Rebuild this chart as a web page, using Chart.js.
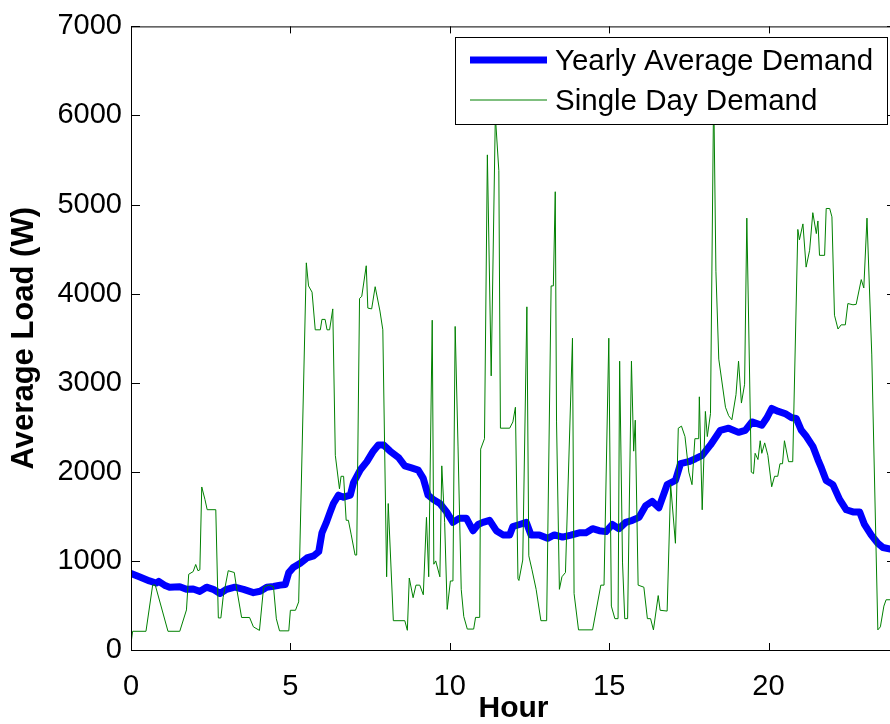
<!DOCTYPE html>
<html>
<head>
<meta charset="utf-8">
<script src="https://cdn.jsdelivr.net/npm/chart.js@4.4.1/dist/chart.umd.min.js"></script>
<style>
    html, body { margin: 0; padding: 0; background: #fff; overflow: hidden; }
    canvas { display: block; }
</style>
</head>
<body>
<canvas id="myChart" width="900" height="724"></canvas>
<script>
// tick labels
const xTicks = [0, 5, 10, 15, 20]
const yTicks = [0, 1000, 2000, 3000, 4000, 5000, 6000, 7000]

// yearly average demand (hour, W)
const avgHours = [0, 0.26, 0.58, 0.79, 0.87, 1.05, 1.21, 1.53, 1.74, 1.95, 2.16, 2.37, 2.58, 2.79, 3.0, 3.26, 3.53, 3.84,
    4.05, 4.26, 4.47, 4.68, 4.84, 4.95, 5.1, 5.31, 5.52, 5.73, 5.89, 5.99, 6.13, 6.25, 6.35, 6.51, 6.67, 6.88, 6.98,
    7.19, 7.4, 7.6, 7.76, 7.92, 8.13, 8.39, 8.59, 8.8, 9.01, 9.17, 9.32, 9.48, 9.69, 9.9, 10.1, 10.31, 10.52, 10.73,
    10.89, 11.04, 11.25, 11.46, 11.67, 11.88, 11.98, 12.19, 12.4, 12.55, 12.81, 13.07, 13.28, 13.54, 13.8, 14.06,
    14.27, 14.48, 14.69, 14.9, 15.1, 15.31, 15.52, 15.73, 15.94, 16.15, 16.35, 16.56, 16.82, 17.08, 17.24, 17.5,
    17.71, 17.92, 18.18, 18.49, 18.75, 19.06, 19.27, 19.48, 19.79, 19.95, 20.1, 20.31, 20.52, 20.73, 20.87, 21.03,
    21.19, 21.4, 21.55, 21.66, 21.81, 22.02, 22.23, 22.44, 22.65, 22.86, 23.01, 23.22, 23.43, 23.59, 23.9]
const avgLoad = [860, 822, 775, 752, 770, 728, 705, 710, 681, 685, 658, 705, 681, 634, 681, 705, 681, 644,
    660, 705, 714, 728, 735, 869, 930, 975, 1034, 1057, 1104, 1315, 1433, 1550, 1644, 1738, 1715, 1738, 1879,
    2020, 2114, 2232, 2302, 2302, 2232, 2161, 2067, 2044, 2020, 1926, 1738, 1691, 1644, 1550, 1433, 1480, 1480, 1339,
    1409, 1433, 1456, 1339, 1292, 1292, 1386, 1409, 1433, 1292, 1292, 1254, 1292, 1268, 1290, 1315,
    1315, 1362, 1339, 1329, 1409, 1362, 1433, 1456, 1489, 1621, 1668, 1597, 1856, 1903, 2091, 2114,
    2147, 2185, 2302, 2466, 2490, 2443, 2466, 2560, 2523, 2607, 2711, 2678, 2654, 2607, 2600, 2466,
    2396, 2279, 2138, 2044, 1903, 1856, 1691, 1574, 1550, 1550, 1409, 1292, 1198, 1151, 1127]

// single day demand (hour, W)
const dayHours = [0, 0.01, 0.05, 0.47, 0.68, 0.76, 1.16, 1.53, 1.74, 1.81, 1.95, 2.03, 2.1, 2.16, 2.22, 2.32, 2.39, 2.66,
    2.74, 2.82, 2.89, 3.05, 3.24, 3.32, 3.47, 3.72, 3.84, 4.03, 4.16, 4.32, 4.47, 4.56, 4.66, 4.95, 5.0, 5.16, 5.26,
    5.5, 5.57, 5.68, 5.78, 5.94, 5.99, 6.09, 6.15, 6.23, 6.33, 6.41, 6.54, 6.59, 6.67, 6.75, 6.82, 6.91, 7.03, 7.08,
    7.17, 7.24, 7.38, 7.43, 7.55, 7.66, 7.81, 7.9, 8.02, 8.07, 8.23, 8.59, 8.67, 8.73, 8.85, 8.94, 9.06, 9.17, 9.27,
    9.34, 9.45, 9.5, 9.56, 9.69, 9.75, 9.84, 9.92, 10.02, 10.1, 10.17, 10.26, 10.36, 10.44, 10.55, 10.75, 10.81,
    10.94, 10.97, 11.09, 11.18, 11.3, 11.43, 11.54, 11.59, 11.88, 11.98, 12.06, 12.14, 12.17, 12.29, 12.42, 12.48,
    12.58, 12.71, 12.86, 13.04, 13.18, 13.25, 13.31, 13.35, 13.44, 13.52, 13.63, 13.85, 13.9, 14.04, 14.48, 14.74,
    14.84, 14.99, 15.07, 15.18, 15.28, 15.33, 15.42, 15.49, 15.58, 15.7, 15.77, 15.82, 15.91, 16.09, 16.2, 16.3,
    16.39, 16.54, 16.6, 16.82, 16.93, 17.08, 17.17, 17.27, 17.38, 17.5, 17.6, 17.69, 17.81, 17.83, 17.92, 18.02,
    18.08, 18.18, 18.28, 18.35, 18.44, 18.65, 18.75, 18.85, 18.98, 19.06, 19.15, 19.25, 19.32, 19.46, 19.53, 19.58,
    19.67, 19.74, 19.79, 19.88, 19.98, 20.1, 20.19, 20.29, 20.36, 20.44, 20.5, 20.63, 20.76, 20.92, 20.97, 21.08,
    21.18, 21.29, 21.39, 21.5, 21.55, 21.6, 21.76, 21.81, 21.92, 21.99, 22.07, 22.18, 22.28, 22.41, 22.49, 22.65,
    22.75, 22.91, 22.99, 23.09, 23.24, 23.43, 23.51, 23.62, 23.69, 23.9]
const dayLoad = [6200, 100, 210, 210, 730, 730, 210, 210, 450, 850, 880, 960, 890, 900, 1830, 1690, 1575, 1575,
    360, 360, 590, 890, 870, 680, 365, 365, 260, 220, 705, 730, 710, 350, 215, 215, 446, 446, 540,
    4346, 4087, 4017, 3594, 3594, 3711, 3711, 3594, 3594, 3829, 2185, 1809, 1950, 1950, 1456, 1456, 1292, 1066, 1066,
    3946, 3970, 4313, 3838, 3829, 4078, 3805, 3594, 822, 1644, 329, 329, 221, 808, 587, 728, 728, 620, 1489,
    822, 3702, 963, 1000, 822, 2067, 1433, 456, 775, 775, 3632, 2279, 681, 376, 235, 235, 366,
    366, 2255, 2372, 5558, 3077, 6000, 5380, 2490, 2490, 2560, 2725, 799, 780, 1010, 3852, 1057,
    900, 681, 329, 329, 4087, 4087, 5144, 2560, 681, 822, 870, 3500, 634, 226, 226, 728,
    728, 3500, 493, 352, 352, 3242, 987, 352, 352, 3242, 2232, 2580, 728, 705, 352, 352,
    226, 611, 446, 437, 1856, 1198, 2490, 2513, 2396, 1997, 1856, 2372, 2372, 2842, 1574, 2678,
    2396, 2654, 6300, 4252, 3265, 2725, 2630, 2584, 2866, 3242, 2772, 2983, 4848, 1997, 1980, 2208,
    2138, 2349, 2208, 2325, 2185, 1832, 1950, 1950, 2091, 2091, 2349, 2114, 2114, 4721, 4604, 4783,
    4298, 4487, 4909, 4674, 4816, 4430, 4430, 4956, 4956, 4862, 3758, 3603, 3650, 3650, 3889, 3875,
    3880, 4158, 4064, 4848, 3312, 226, 260, 493, 564, 564]

const FONT = '"Liberation Sans", Arial, sans-serif'

function toPoints(xs, ys) {
    return xs.map((x, i) => ({x: x, y: ys[i]}))
}

// MATLAB style box with inward ticks, plus the boxed legend
const boxPlugin = {
    id: 'matlabBox',
    afterDatasetsDraw(chart) {
        const {ctx, chartArea: a} = chart
        const xs = chart.scales.x, ys = chart.scales.y
        ctx.save()
        ctx.strokeStyle = '#000'
        ctx.lineWidth = 1
        ctx.strokeRect(a.left + 0.5, a.top + 0.5, a.right - a.left, a.bottom - a.top)
        ctx.beginPath()
        xTicks.forEach(v => {
            const px = Math.round(xs.getPixelForValue(v)) + 0.5
            ctx.moveTo(px, a.bottom); ctx.lineTo(px, a.bottom - 7)
            ctx.moveTo(px, a.top); ctx.lineTo(px, a.top + 7)
        })
        yTicks.forEach(v => {
            const py = Math.round(ys.getPixelForValue(v)) + 0.5
            ctx.moveTo(a.left, py); ctx.lineTo(a.left + 9, py)
            ctx.moveTo(a.right, py); ctx.lineTo(a.right - 9, py)
        })
        ctx.stroke()

        // legend
        const lx = 455, ly = 37, lw = 432, lh = 87
        ctx.fillStyle = '#fff'
        ctx.fillRect(lx, ly, lw, lh)
        ctx.strokeRect(lx + 0.5, ly + 0.5, lw, lh)
        const rows = [chart.data.datasets[1], chart.data.datasets[0]]
        rows.forEach((ds, i) => {
            const y = 60 + i * 40
            ctx.beginPath()
            ctx.strokeStyle = ds.borderColor
            ctx.lineWidth = ds.borderWidth
            ctx.moveTo(470, y); ctx.lineTo(547, y)
            ctx.stroke()
            ctx.fillStyle = '#000'
            ctx.font = '29.5px ' + FONT
            ctx.textBaseline = 'middle'
            ctx.fillText(ds.label, 555, y + 2)
        })
        ctx.restore()
    }
}

new Chart(document.getElementById('myChart'), {
    type: 'line',
    data: {
        datasets: [{
            label: 'Single Day Demand',
            data: toPoints(dayHours, dayLoad),
            borderColor: '#008000',
            borderWidth: 1,
            order: 0
        }, {
            label: 'Yearly Average Demand',
            data: toPoints(avgHours, avgLoad),
            borderColor: '#0000ff',
            borderWidth: 7,
            borderJoinStyle: 'round',
            borderCapStyle: 'round',
            order: 1
        }]
    },
    options: {
        responsive: false,
        animation: false,
        devicePixelRatio: 1,
        elements: {point: {radius: 0}, line: {tension: 0}},
        layout: {padding: {top: 24, right: 4, left: 0, bottom: 0}},
        plugins: {legend: {display: false}, tooltip: {enabled: false}},
        scales: {
            x: {
                type: 'linear',
                min: 0,
                max: 24,
                afterBuildTicks: s => { s.ticks = xTicks.map(v => ({value: v})) },
                afterFit: s => { s.height = 74 },
                grid: {display: false, drawTicks: false, tickLength: 0},
                border: {display: false},
                ticks: {color: '#000', font: {family: FONT, size: 29}, padding: 20, maxRotation: 0, autoSkip: false,
                    callback: v => String(v)},
                title: {display: true, text: 'Hour', color: '#000',
                    font: {family: FONT, size: 30, weight: 'bold', lineHeight: 1}, padding: {top: 0, bottom: 0}}
            },
            y: {
                min: 0,
                max: 7000,
                afterBuildTicks: s => { s.ticks = yTicks.map(v => ({value: v})) },
                afterFit: s => { s.width = 131 },
                grid: {display: false, drawTicks: false, tickLength: 0},
                border: {display: false},
                ticks: {color: '#000', font: {family: FONT, size: 29}, padding: 9, callback: v => String(v)},
                title: {display: true, text: 'Average Load (W)', color: '#000',
                    font: {family: FONT, size: 31, weight: 'bold'}, padding: {top: 6, bottom: 0}}
            }
        }
    },
    plugins: [boxPlugin]
})
</script>
</body>
</html>
